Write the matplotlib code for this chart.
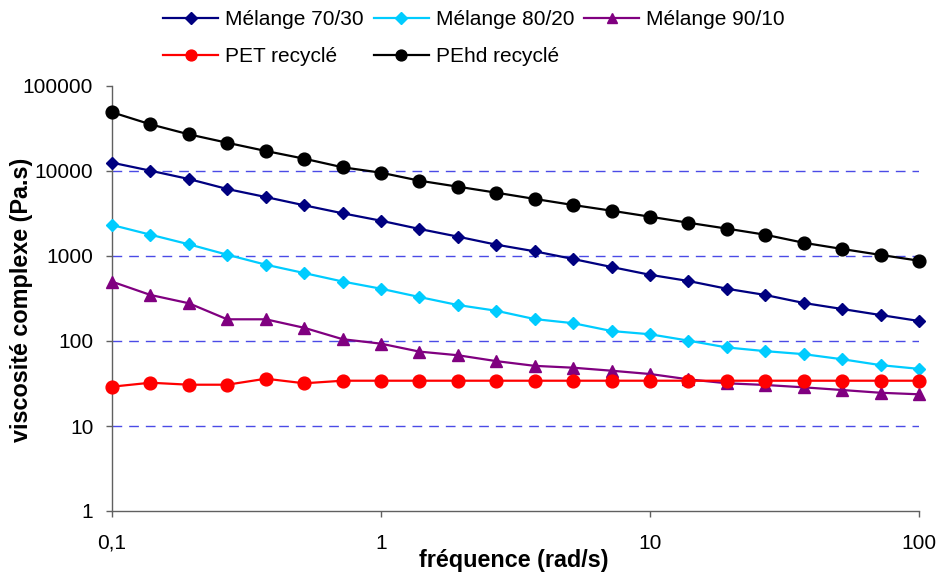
import matplotlib
matplotlib.use("Agg")
import matplotlib.pyplot as plt
from matplotlib.ticker import FixedLocator, FixedFormatter, NullLocator

plt.rcParams['font.family'] = ['Liberation Sans', 'DejaVu Sans']

freq = [0.1, 0.139, 0.193, 0.268, 0.373, 0.518, 0.72, 1.0, 1.39, 1.93, 2.68,
        3.73, 5.18, 7.2, 10, 13.9, 19.3, 26.8, 37.3, 51.8, 72, 100]

melange_70_30 = [12530, 10080, 8050, 6140, 4940, 3950, 3180, 2600, 2080, 1690, 1360,
                 1135, 922, 742, 601, 508, 412, 348, 280, 238, 202, 172]
melange_80_20 = [2316, 1780, 1373, 1036, 790, 630, 501, 412, 329, 265, 227,
                 181, 162, 131, 120, 101, 84, 76, 70, 61, 52, 47]
melange_90_10 = [499, 348, 278, 180, 180, 143, 105, 93, 75, 68, 58,
                 51, 48.5, 44.7, 40.9, 35.4, 31.8, 30.4, 28.5, 26.5, 24.6, 23.6]
pet_recycle = [29, 32.3, 30.6, 30.6, 36, 31.8, 34.1, 34.1, 34.1, 34.1, 34.1,
               34.1, 34.1, 34.1, 34.1, 34.1, 34.1, 34.1, 34.1, 34.1, 34.1, 34.1]
pehd_recycle = [49100, 35400, 27000, 21500, 17200, 13960, 11060, 9550, 7690, 6540, 5560,
                4690, 3980, 3410, 2900, 2460, 2100, 1780, 1430, 1210, 1030, 880]

labels = ["Mélange 70/30", "Mélange 80/20", "Mélange 90/10", "PET recyclé", "PEhd recyclé"]
x_ticks = [0.1, 1, 10, 100]
x_tick_labels = ["0,1", "1", "10", "100"]
y_ticks = [1, 10, 100, 1000, 10000, 100000]
y_tick_labels = ["1", "10", "100", "1000", "10000", "100000"]

W, H = 939, 578
fig = plt.figure(figsize=(W / 100, H / 100), dpi=100)
ax = fig.add_axes([112 / W, 1 - 511 / H, (919 - 112) / W, (511 - 86) / H])

ax.set_xscale('log')
ax.set_yscale('log')
ax.set_xlim(x_ticks[0], x_ticks[-1])
ax.set_ylim(y_ticks[0], y_ticks[-1])

for yv in y_ticks[1:-1]:
    ax.axhline(yv, color='#4b4be6', lw=1.0, ls=(0, (7, 5)), zorder=1)

series = [melange_70_30, melange_80_20, melange_90_10, pet_recycle, pehd_recycle]
colors = ['#000080', '#00ccff', '#800080', '#ff0000', '#000000']
markers = ['D', 'D', '^', 'o', 'o']
msizes = [6.6, 6.6, 9.0, 9.2, 9.2]
handles = []
for s, c, m, ms, lab in zip(series, colors, markers, msizes, labels):
    h, = ax.plot(freq, s, color=c, marker=m, markersize=ms, lw=1.6,
                 markeredgecolor=c, markerfacecolor=c, label=lab, clip_on=False, zorder=3)
    handles.append(h)

for side in ['top', 'right']:
    ax.spines[side].set_visible(False)
for side in ['left', 'bottom']:
    ax.spines[side].set_color('#606060')
    ax.spines[side].set_linewidth(1.0)

ax.xaxis.set_major_locator(FixedLocator(x_ticks))
ax.xaxis.set_major_formatter(FixedFormatter(x_tick_labels))
ax.xaxis.set_minor_locator(NullLocator())
ax.yaxis.set_major_locator(FixedLocator(y_ticks))
ax.yaxis.set_major_formatter(FixedFormatter(y_tick_labels))
ax.yaxis.set_minor_locator(NullLocator())
ax.tick_params(axis='both', which='major', direction='out', length=4.5, width=1.0,
               color='#606060', labelsize=15, labelcolor='black')
ax.tick_params(axis='y', pad=9)
ax.tick_params(axis='x', pad=12)

fig.text(514 / W, 1 - 560 / H, "fréquence (rad/s)", ha='center', va='center',
         fontsize=16.8, fontweight='bold')
fig.text(22 / W, 1 - 300 / H, "viscosité complexe (Pa.s)", ha='center', va='center',
         rotation=90, fontsize=16.8, fontweight='bold')

order = [0, 3, 1, 4, 2]
leg = fig.legend([handles[i] for i in order], [labels[i] for i in order],
                 ncol=3, loc='upper left', bbox_to_anchor=(163 / W, 1 - 10 / H),
                 frameon=False, fontsize=15, handlelength=2.64, handletextpad=0.34,
                 columnspacing=0.48, labelspacing=0.88, borderpad=0, borderaxespad=0)
for lh in leg.legend_handles:
    lh.set_markersize(lh.get_markersize() * 0.85)

fig.savefig("out.png", dpi=100)
